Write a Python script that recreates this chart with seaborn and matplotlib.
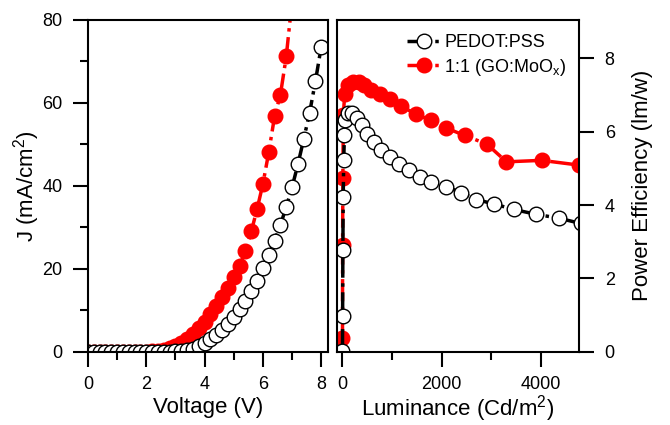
import matplotlib
matplotlib.use("Agg")
import matplotlib.pyplot as plt
import numpy as np
import pandas as pd
import seaborn as sns
from matplotlib.ticker import MultipleLocator

# J-V data (voltage step 0.2 V)
voltage = [0.0, 0.2, 0.4, 0.6, 0.8, 1.0, 1.2, 1.4, 1.6, 1.8, 2.0, 2.2, 2.4, 2.6,
           2.8, 3.0, 3.2, 3.4, 3.6, 3.8, 4.0, 4.2, 4.4, 4.6, 4.8, 5.0, 5.2, 5.4,
           5.6, 5.8, 6.0, 6.2, 6.4, 6.6, 6.8, 7.0, 7.2, 7.4, 7.6, 7.8, 8.0]
j_pedot = [0, 0, 0, 0, 0, 0, 0, 0, 0, 0, 0, 0, 0, 0, 0, 0.05, 0.1, 0.3, 0.7,
           1.4, 2.2, 3.0, 4.0, 5.2, 6.7, 8.3, 10.3, 12.3, 14.6, 17.1, 20.1, 23.3,
           26.8, 30.6, 34.9, 39.7, 45.2, 51.3, 57.6, 65.2, 73.6]
j_go = [0, 0, 0, 0, 0, 0, 0, 0, 0, 0, 0, 0.08, 0.2, 0.4, 0.8, 1.4, 2.1, 3.0,
        4.2, 5.6, 7.2, 9.0, 11.0, 13.3, 15.3, 18.1, 20.7, 24.3, 29.0, 34.4,
        40.5, 48.1, 56.8, 62.0, 71.2, 84.7]

# Power efficiency vs luminance
lum_pedot = [0.5, 3, 8, 15, 25, 40, 60, 108, 195, 290, 391, 492, 626, 781, 949,
             1131, 1340, 1556, 1791, 2094, 2397, 2700, 3057, 3455, 3899, 4370, 4801]
pe_pedot = [0.01, 0.98, 2.78, 4.23, 5.24, 5.90, 6.31, 6.50, 6.52, 6.38, 6.18,
            5.95, 5.72, 5.50, 5.31, 5.13, 4.95, 4.77, 4.63, 4.50, 4.34, 4.15,
            4.03, 3.88, 3.75, 3.64, 3.50]
lum_go = [0.5, 3, 8, 18, 45, 108, 209, 330, 444, 579, 747, 949, 1185, 1475,
          1778, 2094, 2465, 2916, 3307, 4014, 4774]
pe_go = [0.37, 2.9, 4.75, 6.45, 7.04, 7.27, 7.36, 7.36, 7.27, 7.15, 7.04, 6.90,
         6.69, 6.49, 6.31, 6.10, 5.90, 5.66, 5.18, 5.22, 5.09]

sns.set_theme(style="ticks")
plt.rcParams["font.family"] = ["Liberation Sans", "DejaVu Sans"]
plt.rcParams["mathtext.fontset"] = "custom"
plt.rcParams["mathtext.rm"] = "Liberation Sans"
plt.rcParams["axes.linewidth"] = 1.5
plt.rcParams["text.color"] = "black"
plt.rcParams["axes.labelcolor"] = "black"
plt.rcParams["xtick.color"] = "black"
plt.rcParams["ytick.color"] = "black"

fig = plt.figure(figsize=(6.7, 4.25), dpi=100)
ax1 = fig.add_axes([0.1313, 0.1725, 0.3582, 0.7805])
ax2 = fig.add_axes([0.5030, 0.1725, 0.3612, 0.7805])

black_kw = dict(color="black", linestyle="-.", linewidth=2.5, marker="o",
                markersize=10.5, markerfacecolor="white", markeredgecolor="black",
                markeredgewidth=1.0, estimator=None, sort=False)
red_kw = dict(color="red", linestyle="-.", linewidth=2.5, marker="o",
              markersize=10.5, markerfacecolor="red", markeredgecolor="red",
              markeredgewidth=1.0, estimator=None, sort=False)

# left panel: J-V
sns.lineplot(x=voltage[:len(j_go)], y=j_go, ax=ax1, **red_kw)
sns.lineplot(x=voltage, y=j_pedot, ax=ax1, **black_kw)
ax1.set_xlim(0, 8.23)
ax1.set_ylim(0, 80)
ax1.xaxis.set_major_locator(MultipleLocator(2))
ax1.xaxis.set_minor_locator(MultipleLocator(1))
ax1.yaxis.set_major_locator(MultipleLocator(20))
ax1.yaxis.set_minor_locator(MultipleLocator(10))
ax1.set_xlabel("Voltage (V)", fontsize=16, labelpad=3)
ax1.set_ylabel("J (mA/cm$^\\mathregular{2}$)", fontsize=16, labelpad=0)

# right panel: PE-L
sns.lineplot(x=lum_go, y=pe_go, ax=ax2, label="1:1 (GO:MoO$_\\mathregular{x}$)", **red_kw)
sns.lineplot(x=lum_pedot, y=pe_pedot, ax=ax2, label="PEDOT:PSS", **black_kw)
ax2.set_xlim(-110, 4770)
ax2.set_ylim(0, 9.05)
ax2.xaxis.set_major_locator(MultipleLocator(2000))
ax2.xaxis.set_minor_locator(MultipleLocator(1000))
ax2.yaxis.set_major_locator(MultipleLocator(2))
ax2.yaxis.tick_right()
ax2.yaxis.set_label_position("right")
ax2.set_xlabel("Luminance (Cd/m$^\\mathregular{2}$)", fontsize=16, labelpad=0)
ax2.set_ylabel("Power Efficiency (lm/w)", fontsize=16, labelpad=12)

for ax in (ax1, ax2):
    ax.tick_params(which="major", direction="out", length=11, width=1.5,
                   labelsize=13, pad=7.5, color="black", labelcolor="black")
    ax.tick_params(which="minor", direction="out", length=6, width=1.5, color="black")
    ax.tick_params(axis="x", which="major", pad=6.5)
    for s in ax.spines.values():
        s.set_visible(True)
        s.set_linewidth(1.5)
        s.set_color("black")

lines = ax2.get_lines()
handles = [lines[1], lines[0]]
ax2.legend(handles=handles, labels=[h.get_label() for h in handles],
           loc="upper right", frameon=False, fontsize=13, handlelength=1.9,
           handletextpad=0.2, borderaxespad=0.3, labelspacing=0.3,
           bbox_to_anchor=(1.0, 0.995))

fig.savefig("out.png", dpi=100)
